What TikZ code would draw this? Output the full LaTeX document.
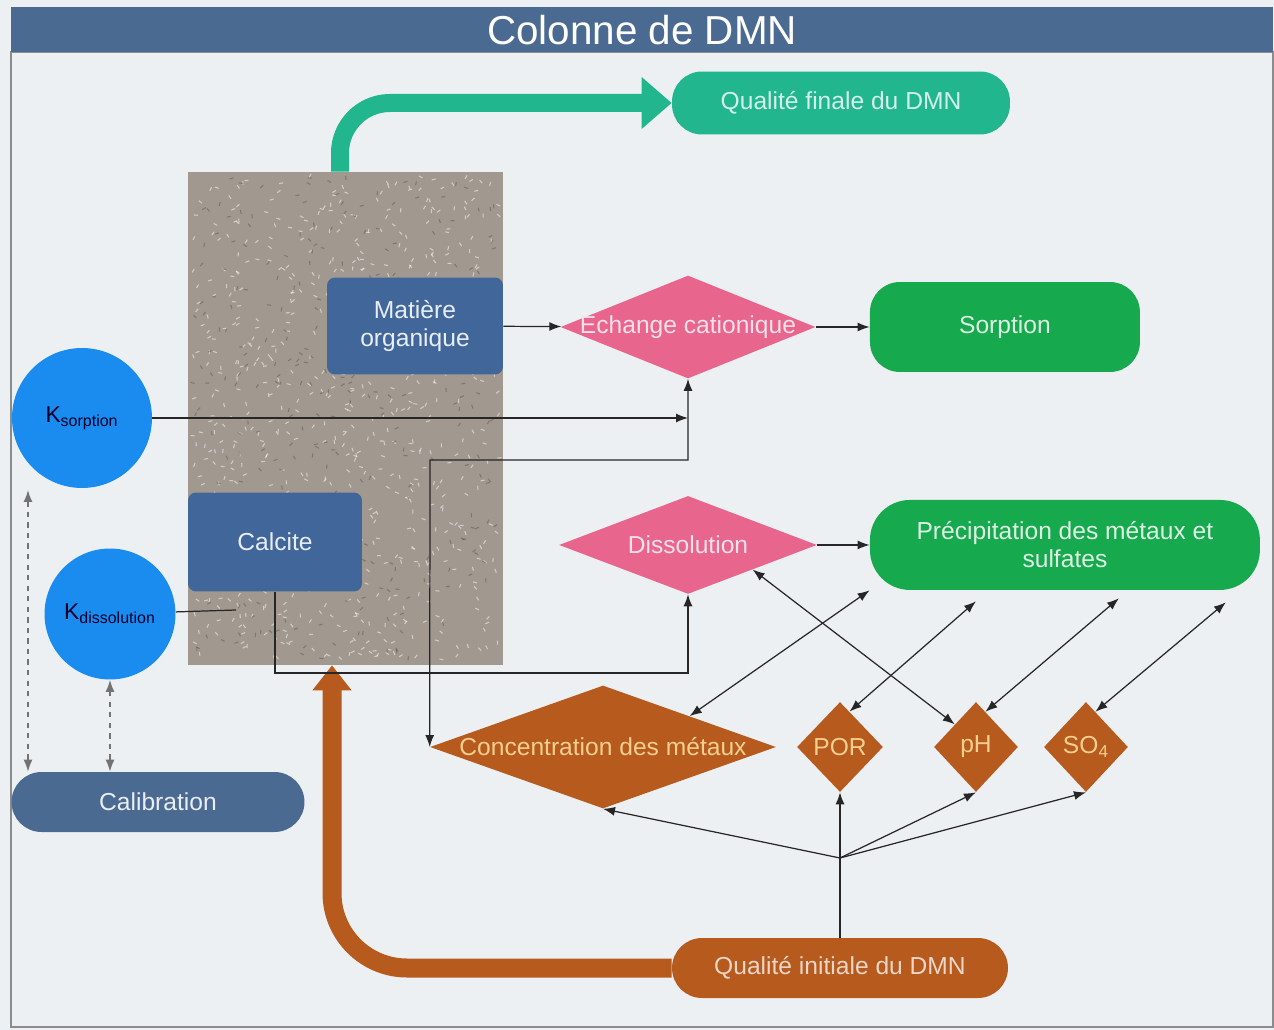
\documentclass[tikz,border=0pt]{standalone}
\usepackage{fontspec}
\setmainfont{Liberation Sans}
\usepackage{xcolor}
\usetikzlibrary{positioning,arrows.meta,shapes.geometric,calc}
\definecolor{fond}{HTML}{EDF0F2}
\definecolor{bandeau}{HTML}{4B6A92}
\definecolor{colonne}{HTML}{A1998F}
\definecolor{bleu}{HTML}{41669A}
\definecolor{kbleu}{HTML}{1A8CF0}
\definecolor{rose}{HTML}{E8668E}
\definecolor{vert}{HTML}{17A94D}
\definecolor{turquoise}{HTML}{22B68F}
\definecolor{brun}{HTML}{B65A1E}
\definecolor{ocre}{HTML}{F6CF8E}

\begin{document}
\begin{tikzpicture}[x=0.02cm,y=-0.02cm,font=\fontsize{14}{16}\selectfont,
  >={Latex[length=2.4mm,width=1.8mm]},node distance=2cm,on grid,
  boite/.style={rectangle,rounded corners=0.16cm,fill=bleu,text=white!88!bleu,align=center},
  pilule/.style={rectangle,rounded corners=0.6cm,align=center},
  losange/.style={diamond,inner sep=0pt},
  rond/.style={circle,fill=kbleu,inner sep=0pt,text=black!60!blue!40!black,font=\fontsize{13}{15}\selectfont},
  trait/.style={draw=black!85,line width=0.7pt},
  fleche/.style={trait,->},
  fleches/.style={trait,<->},
  pointille/.style={draw=black!55,line width=0.8pt,dash pattern=on 3pt off 3pt,<->},
  grainc/.style={white,opacity=.5,line width=0.6pt},
  grainf/.style={black!70!brown,opacity=.3,line width=0.6pt},
  grosvert/.style={turquoise,line width=0.36cm,rounded corners=1cm,-{Triangle[length=0.6cm,width=1cm]}},
  grosbrun/.style={brun,line width=0.38cm,rounded corners=1.5cm,-{Triangle[length=0.5cm,width=0.75cm]}}]
\fill[fond] (0,0) rectangle (1274,1030);
\useasboundingbox (0,0) rectangle (1274,1030);
\draw[black!45,line width=0.6pt] (11,52) rectangle (1273,1027);
\node[fill=bandeau,text=white,minimum width=25.24cm,minimum height=0.9cm,
  font=\fontsize{23}{26}\selectfont] (titre) at (642,30) {Colonne de DMN};

\node[fill=colonne,minimum width=6.3cm,minimum height=9.86cm,inner sep=0pt] (col) at (345.5,418.5) {};
\pgfmathsetseed{7}
\foreach \i in {1,...,750}{
  \pgfmathsetmacro\px{193+305*rnd}
  \pgfmathsetmacro\py{177+483*rnd}
  \pgfmathsetmacro\pa{360*rnd}
  \draw[grainc] (\px,\py) -- ++(\pa:4);}
\foreach \i in {1,...,300}{
  \pgfmathsetmacro\px{193+305*rnd}
  \pgfmathsetmacro\py{177+483*rnd}
  \pgfmathsetmacro\pa{360*rnd}
  \draw[grainf] (\px,\py) -- ++(\pa:4);}

\node[boite,minimum width=3.52cm,minimum height=1.94cm] (matiere) at (415,326) {Matière\\organique};
\node[boite,minimum width=3.48cm,minimum height=1.98cm] (calcite) at (275,542) {Calcite};

\node[losange,fill=rose,minimum width=5.1cm,minimum height=2.06cm,
  label={[name=techange,text=white!80!rose]center:Echange cationique}] (echange) at (688,327) {};
\node[losange,fill=rose,minimum width=5.16cm,minimum height=1.96cm,below=4.36cm of echange,
  label={[name=tdiss,text=white!80!rose]center:Dissolution}] (diss) {};
\node[pilule,fill=vert,text=white!85!vert,minimum width=5.4cm,minimum height=1.8cm,
  right=6.34cm of echange] (sorption) {Sorption};
\node[pilule,rounded corners=0.8cm,fill=vert,text=white!85!vert,minimum width=7.8cm,minimum height=1.8cm,
  right=7.54cm of diss] (precip) {Précipitation des métaux et\\sulfates};
\node[pilule,fill=turquoise,text=white!80!turquoise,minimum width=6.76cm,minimum height=1.26cm]
  (final) at (841,103) {Qualité finale du DMN};

\node[rond,minimum size=2.8cm] (ksorp) at (82,418) {K\textsubscript{sorption}};
\node[rond,minimum size=2.62cm] (kdiss) at (110,614) {K\textsubscript{dissolution}};
\node[pilule,fill=bandeau,text=white!88!bandeau,minimum width=5.86cm,minimum height=1.2cm]
  (calib) at (158,802) {Calibration};

\node[losange,fill=brun,minimum width=6.92cm,minimum height=2.46cm,
  label={[name=tconc,text=ocre]center:Concentration des métaux}] (conc) at (603,747) {};
\node[losange,fill=brun,minimum width=1.72cm,minimum height=1.8cm,
  label={[name=tpor,text=ocre]center:POR}] (por) at (840,747) {};
\node[losange,fill=brun,minimum width=1.68cm,minimum height=1.8cm,right=2.72cm of por,
  label={[name=tph,text=ocre]center:pH}] (ph) {};
\node[losange,fill=brun,minimum width=1.68cm,minimum height=1.8cm,right=2.2cm of ph,
  label={[name=tso,text=ocre]center:SO\textsubscript{4}}] (so) {};
\node[pilule,fill=brun,text=white!75!brun,minimum width=6.72cm,minimum height=1.2cm]
  (init) at (840,968) {Qualité initiale du DMN};

\draw[grosvert] ([xshift=-0.11cm]col.north) |- (final.west);
\draw[grosbrun] (init.west) -| ([xshift=-0.27cm]col.south);

\coordinate (coude) at (430,460);
\coordinate (bas) at (275,673);
\coordinate (kfin) at (236,610);
\coordinate (k1bas) at (28,490);
\coordinate (fourche) at (840,858);
\draw[fleche] (matiere) -- (echange);
\draw[fleche] (echange) -- (sorption);
\draw[fleche] (diss) -- (precip);
\draw[fleche] (ksorp) -- (ksorp -| echange.south);
\draw[fleches] (conc.west) -- (coude) -| (echange.south);
\draw[fleche] (calcite.south) -- (bas) -| (diss.south);
\draw[trait] (kdiss) -- (kfin);
\draw[pointille] (k1bas) -- (k1bas |- calib.north);
\draw[pointille] (kdiss.south) -- (kdiss.south |- calib.north);

\draw[fleches] (diss.south east) -- (ph.north west);
\draw[fleches] (conc.north east) -- (precip.south west);
\draw[fleches] (por.75) -- ([xshift=-1.78cm,yshift=-0.22cm]precip.south);
\draw[fleches] (ph.75) -- ([xshift=1.08cm,yshift=-0.16cm]precip.south);
\draw[fleches] (so.75) -- ([xshift=3.22cm,yshift=-0.24cm]precip.south);

\draw[trait] (init.north) -- (fourche);
\draw[fleche] (fourche) -- (conc.south);
\draw[fleche] (fourche) -- (por.south);
\draw[fleche] (fourche) -- (ph.south);
\draw[fleche] (fourche) -- (so.south);
\end{tikzpicture}
\end{document}
